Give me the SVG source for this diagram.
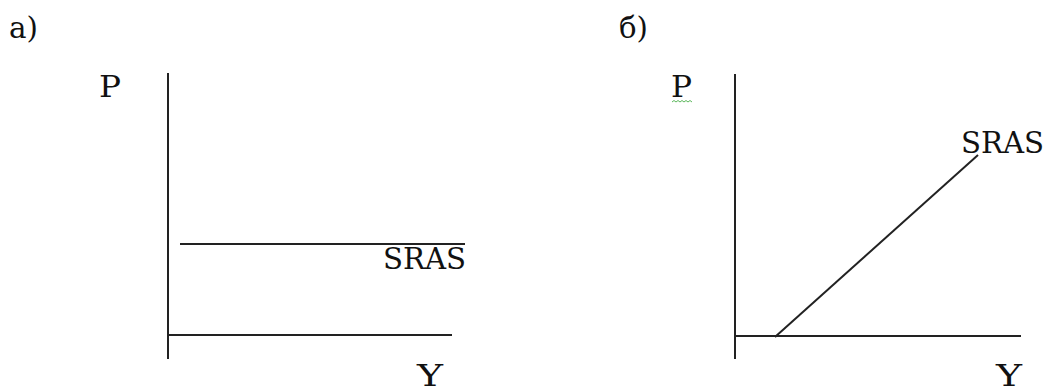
<svg xmlns="http://www.w3.org/2000/svg" width="1046" height="387" viewBox="0 0 1046 387">
<style>
.ax{stroke:#222;stroke-width:2;fill:none}
text{font-family:'DejaVu Serif','Liberation Serif',serif;font-size:29px;fill:#111}
</style>
<rect width="1046" height="387" fill="#fff"/>
<text x="9" y="38" textLength="29" lengthAdjust="spacingAndGlyphs">а)</text>
<text x="619" y="38" textLength="29" lengthAdjust="spacingAndGlyphs">б)</text>
<g id="chartA">
<g id="axesA">
<line class="ax" x1="168" y1="73" x2="168" y2="359"/>
<line class="ax" x1="168" y1="335" x2="452" y2="335"/>
</g>
<g id="labelPA"><text x="99" y="97" textLength="22" lengthAdjust="spacingAndGlyphs">P</text></g>
<g id="labelYA"><text x="417" y="386" textLength="26" lengthAdjust="spacingAndGlyphs">Y</text></g>
<g id="srasA">
<line class="ax" x1="180" y1="244" x2="465" y2="244"/>
<text x="383" y="269" textLength="83" lengthAdjust="spacingAndGlyphs">SRAS</text>
</g>
</g>
<g id="chartB">
<g id="axesB">
<line class="ax" x1="735" y1="74" x2="735" y2="359"/>
<line class="ax" x1="735" y1="336" x2="1021" y2="336"/>
</g>
<g id="labelPB"><text x="671" y="97" textLength="21" lengthAdjust="spacingAndGlyphs">P</text>
<polyline points="672,102 674,100.5 676,102 678,100.5 680,102 682,100.5 684,102 686,100.5 688,102 690,100.5 692,102" fill="none" stroke="#5cb85c" stroke-width="1"/></g>
<g id="labelYB"><text x="996" y="386" textLength="26" lengthAdjust="spacingAndGlyphs">Y</text></g>
<g id="srasB">
<line class="ax" x1="775" y1="337" x2="978" y2="155"/>
<text x="961" y="153" textLength="83" lengthAdjust="spacingAndGlyphs">SRAS</text>
</g>
</g>
</svg>
